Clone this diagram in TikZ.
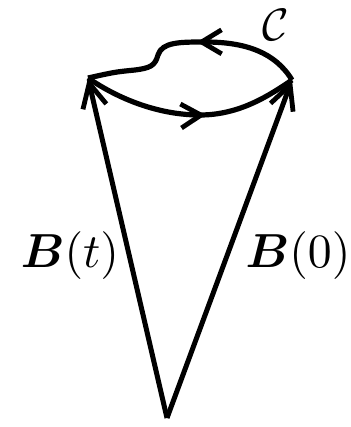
\documentclass[tikz,border=0pt]{standalone}
\usepackage{amsmath,bm}
\usetikzlibrary{arrows.meta,decorations.markings}

\tikzset{
  vec/.style={line width=1.25mm,-{Straight Barb[length=6mm,width=6mm,line width=1.2mm]}},
  curve/.style={line width=1.3mm,line join=round},
  midarrow/.style={postaction=decorate,decoration={markings,
    mark=at position #1 with {\arrow{Straight Barb[length=5mm,width=6mm,line width=1.2mm]}}}},
  lab/.style={scale=3.4,inner sep=0pt}
}

\begin{document}
\begin{tikzpicture}[x=0.25mm,y=-0.25mm]
\useasboundingbox (0,0) rectangle (350,427);

\coordinate (O) at (167,418);
\coordinate (L) at (88,78);
\coordinate (R) at (292,80);

\draw[vec] (O) -- (L);
\draw[vec] (O) -- (R);

% closed curve C
\draw[curve,midarrow=0.57] (L) .. controls (120,100) and (160,115) .. (200,115)
  .. controls (240,115) and (270,95) .. (R);
\draw[curve,midarrow=0.47] (R) .. controls (275,52) and (245,42) .. (205,42)
  .. controls (180,42) and (162,42) .. (158,55)
  .. controls (155,66) and (150,68) .. (135,70)
  .. controls (115,72) .. (L);

\node[lab] (Bt) at (70,256) {$\bm{B}(t)$};
\node[lab] (B0) at (298,256) {$\bm{B}(0)$};
\node[lab,scale=0.95] (C) at (276,25) {$\mathcal{C}$};
\end{tikzpicture}
\end{document}
